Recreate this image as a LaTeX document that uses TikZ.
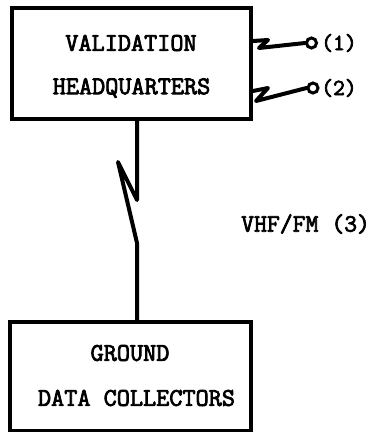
\documentclass[tikz,border=0pt]{standalone}
\usepackage{fontspec}
\newfontfamily\courfont{Latin Modern Mono}[FakeBold=3]
\begin{document}
\begin{tikzpicture}[x=1pt,y=-1pt,
  boxst/.style={draw,line width=3.2pt,rectangle,inner sep=0pt},
  txt/.style={font=\fontsize{25.5}{28}\selectfont\courfont,inner sep=0pt},
  lbl/.style={font=\fontsize{23}{26}\selectfont\courfont,inner sep=0pt},
  vlbl/.style={font=\fontsize{25}{28}\selectfont\courfont,inner sep=0pt},
  wire/.style={line width=4pt,line join=round,line cap=round},
  term/.style={draw,circle,line width=3pt,minimum size=10pt,inner sep=0pt}]
\useasboundingbox (0,0) rectangle (373,432);
\node[boxst,minimum width=239pt,minimum height=111pt] (top) at (131.5,63.5) {};
\node[boxst,minimum width=241pt,minimum height=109pt] (bot) at (130.5,376.5) {};
\node[txt] (t1) at (131,43) {VALIDATION};
\node[txt] (t2) at (131.5,88) {HEADQUARTERS};
\node[txt] (t3) at (130,353) {GROUND};
\node[txt] (t4) at (136.5,398) {DATA COLLECTORS};
\node[term] (c1) at (311.5,43) {};
\node[term] (c2) at (313,88) {};
\node[lbl,anchor=west] (l1) at (321,43) {(1)};
\node[lbl,anchor=west] (l2) at (321,88) {(2)};
\node[vlbl,anchor=west] (l3) at (241,224) {VHF/FM (3)};
\coordinate (z1) at (253,41);
\coordinate (z2) at (253,91);
\coordinate (lx) at (137,0);
\draw[wire] (z1) -- (268,40) -- (259,48) -- (c1.west);
\draw[wire] (z2) -- (268,88) -- (256,101) -- (c2.west);
\draw[wire] (top.south -| lx) -- (137,200) -- (118,162) -- (137,243) -- (bot.north -| lx);
\end{tikzpicture}
\end{document}
